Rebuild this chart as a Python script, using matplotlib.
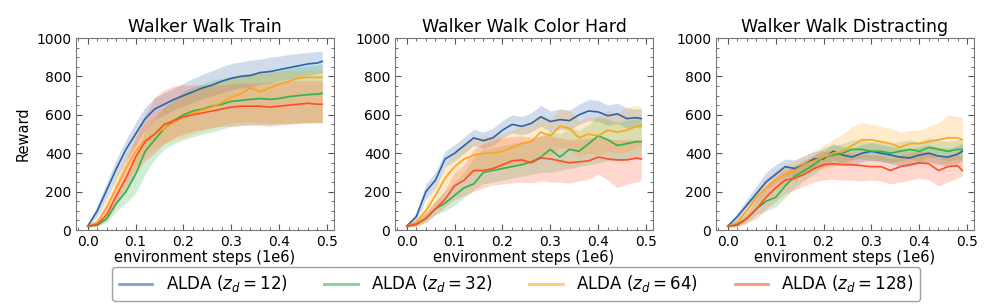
import matplotlib
matplotlib.use("Agg")
import matplotlib.pyplot as plt
from matplotlib.ticker import AutoMinorLocator
import numpy as np

steps = [0.00, 0.02, 0.04, 0.06, 0.08, 0.10, 0.12, 0.14, 0.16, 0.18, 0.20, 0.22, 0.24,
         0.26, 0.28, 0.30, 0.32, 0.34, 0.36, 0.38, 0.40, 0.42, 0.44, 0.46, 0.48, 0.49]

titles = ["Walker Walk Train", "Walker Walk Color Hard", "Walker Walk Distracting"]
labels = [r"ALDA ($z_d = 12$)", r"ALDA ($z_d = 32$)", r"ALDA ($z_d = 64$)", r"ALDA ($z_d = 128$)"]
colors = ["#2b64ab", "#2bb54a", "#ffa31a", "#ff4d26"]

# --- Walker Walk Train ---
train_12 = [20, 100, 210, 320, 420, 500, 580, 630, 655, 680, 700, 720, 740, 755, 775, 790, 800, 805, 820, 825, 835, 845, 855, 865, 870, 878]
train_12_lo = [15, 70, 170, 270, 360, 440, 520, 575, 600, 625, 645, 665, 685, 700, 715, 730, 740, 745, 760, 765, 775, 785, 795, 805, 815, 820]
train_12_hi = [25, 130, 250, 370, 470, 560, 640, 690, 715, 740, 765, 790, 810, 830, 850, 868, 875, 885, 890, 900, 905, 915, 920, 925, 930, 930]
train_32 = [20, 25, 60, 140, 200, 290, 410, 470, 530, 570, 600, 620, 630, 645, 655, 670, 675, 680, 685, 680, 685, 695, 700, 705, 708, 712]
train_32_lo = [15, 20, 40, 100, 140, 190, 290, 370, 420, 450, 470, 485, 500, 510, 525, 540, 545, 550, 550, 550, 555, 555, 560, 560, 560, 560]
train_32_hi = [25, 35, 90, 180, 270, 390, 520, 580, 640, 680, 720, 745, 760, 780, 790, 800, 810, 815, 820, 825, 830, 840, 850, 855, 860, 865]
train_64 = [20, 40, 120, 220, 320, 410, 470, 500, 530, 560, 590, 610, 625, 640, 665, 690, 710, 740, 720, 740, 760, 775, 790, 795, 795, 795]
train_64_lo = [15, 25, 80, 160, 250, 330, 390, 420, 450, 470, 480, 500, 515, 530, 545, 560, 560, 565, 560, 555, 555, 555, 555, 555, 555, 555]
train_64_hi = [25, 60, 170, 290, 400, 490, 560, 600, 640, 670, 700, 720, 740, 760, 780, 800, 810, 815, 815, 820, 825, 830, 830, 830, 830, 830]
train_128 = [20, 30, 80, 180, 270, 380, 460, 500, 550, 570, 590, 600, 610, 620, 630, 640, 645, 645, 645, 640, 645, 650, 655, 660, 655, 655]
train_128_lo = [15, 20, 50, 130, 200, 290, 360, 400, 450, 480, 500, 515, 525, 535, 540, 540, 545, 545, 545, 540, 545, 550, 555, 560, 560, 560]
train_128_hi = [25, 45, 130, 250, 360, 480, 600, 690, 730, 750, 755, 755, 755, 755, 755, 760, 765, 765, 765, 770, 770, 775, 780, 780, 780, 780]

# --- Walker Walk Color Hard ---
hard_12 = [20, 70, 200, 260, 370, 400, 440, 480, 465, 480, 520, 550, 540, 555, 590, 565, 575, 570, 600, 620, 615, 595, 605, 580, 585, 580]
hard_12_lo = [15, 50, 160, 220, 330, 360, 400, 440, 425, 440, 480, 505, 495, 510, 540, 515, 525, 520, 550, 570, 565, 545, 555, 530, 535, 530]
hard_12_hi = [25, 90, 240, 300, 410, 445, 485, 525, 510, 530, 570, 600, 590, 610, 650, 620, 630, 625, 655, 680, 675, 650, 660, 635, 630, 630]
hard_32 = [20, 30, 60, 110, 140, 180, 220, 240, 300, 310, 320, 330, 340, 355, 380, 420, 380, 420, 410, 450, 490, 470, 440, 450, 460, 460]
hard_32_lo = [15, 20, 40, 80, 100, 130, 170, 210, 240, 250, 260, 270, 280, 290, 300, 300, 310, 320, 330, 340, 350, 360, 360, 370, 370, 370]
hard_32_hi = [25, 45, 90, 150, 200, 250, 300, 380, 420, 430, 440, 450, 460, 470, 490, 520, 500, 530, 520, 550, 590, 580, 560, 570, 580, 580]
hard_64 = [20, 40, 100, 180, 270, 330, 370, 390, 400, 400, 410, 430, 450, 460, 510, 490, 540, 530, 480, 500, 490, 520, 510, 520, 540, 545]
hard_64_lo = [15, 25, 60, 120, 190, 240, 280, 300, 310, 310, 320, 330, 350, 360, 400, 390, 430, 420, 380, 400, 390, 410, 400, 410, 430, 440]
hard_64_hi = [25, 60, 140, 240, 340, 410, 450, 470, 490, 490, 500, 520, 540, 550, 600, 580, 630, 620, 570, 590, 590, 620, 610, 640, 650, 640]
hard_128 = [20, 30, 60, 110, 160, 230, 260, 310, 310, 320, 340, 360, 365, 350, 375, 370, 360, 350, 355, 360, 380, 370, 365, 365, 375, 370]
hard_128_lo = [15, 20, 40, 80, 120, 160, 180, 200, 220, 235, 240, 245, 250, 245, 255, 250, 250, 245, 255, 265, 290, 260, 220, 240, 250, 260]
hard_128_hi = [25, 45, 90, 150, 210, 300, 340, 420, 450, 470, 480, 485, 490, 480, 490, 490, 480, 470, 475, 480, 480, 475, 470, 470, 470, 470]

# --- Walker Walk Distracting ---
dist_12 = [20, 70, 130, 190, 250, 290, 330, 320, 340, 370, 370, 410, 390, 380, 400, 410, 400, 390, 380, 375, 390, 400, 385, 380, 395, 410]
dist_12_lo = [15, 50, 100, 150, 200, 240, 280, 280, 300, 330, 330, 365, 345, 335, 355, 365, 355, 345, 335, 330, 345, 355, 340, 335, 350, 360]
dist_12_hi = [25, 90, 160, 230, 300, 340, 370, 365, 385, 410, 415, 450, 435, 425, 445, 455, 445, 435, 425, 420, 435, 445, 430, 425, 440, 455]
dist_32 = [20, 30, 60, 110, 150, 170, 230, 280, 310, 340, 380, 390, 400, 420, 420, 410, 410, 400, 410, 420, 410, 430, 420, 410, 420, 420]
dist_32_lo = [15, 20, 40, 80, 100, 120, 170, 220, 260, 290, 330, 340, 350, 370, 370, 360, 360, 350, 360, 370, 360, 380, 370, 360, 370, 370]
dist_32_hi = [25, 45, 90, 150, 200, 230, 290, 340, 360, 390, 430, 440, 450, 470, 470, 460, 460, 450, 460, 470, 460, 480, 470, 460, 470, 470]
dist_64 = [20, 40, 100, 170, 220, 260, 290, 310, 340, 360, 380, 400, 410, 440, 470, 470, 460, 450, 430, 450, 450, 460, 470, 480, 480, 470]
dist_64_lo = [15, 25, 70, 130, 170, 210, 240, 260, 290, 310, 320, 330, 340, 360, 380, 380, 370, 360, 340, 350, 350, 350, 350, 340, 330, 330]
dist_64_hi = [25, 60, 130, 210, 270, 310, 340, 360, 390, 410, 440, 470, 500, 540, 560, 550, 540, 530, 510, 520, 520, 540, 560, 600, 590, 590]
dist_128 = [20, 25, 60, 110, 170, 220, 260, 270, 290, 320, 340, 345, 340, 340, 335, 330, 330, 310, 330, 340, 350, 345, 310, 330, 335, 310]
dist_128_lo = [15, 15, 35, 60, 110, 150, 190, 210, 230, 250, 260, 265, 260, 260, 255, 260, 255, 240, 250, 260, 270, 260, 230, 250, 270, 280]
dist_128_hi = [25, 40, 90, 160, 230, 280, 320, 330, 360, 390, 410, 410, 405, 400, 395, 390, 390, 370, 390, 400, 410, 405, 370, 390, 395, 370]

panels = [
    [(train_12, train_12_lo, train_12_hi), (train_32, train_32_lo, train_32_hi),
     (train_64, train_64_lo, train_64_hi), (train_128, train_128_lo, train_128_hi)],
    [(hard_12, hard_12_lo, hard_12_hi), (hard_32, hard_32_lo, hard_32_hi),
     (hard_64, hard_64_lo, hard_64_hi), (hard_128, hard_128_lo, hard_128_hi)],
    [(dist_12, dist_12_lo, dist_12_hi), (dist_32, dist_32_lo, dist_32_hi),
     (dist_64, dist_64_lo, dist_64_hi), (dist_128, dist_128_lo, dist_128_hi)],
]

fig = plt.figure(figsize=(9.97, 3.07), dpi=100)
lefts = [0.0762, 0.3962, 0.7182]

for i, (title, series) in enumerate(zip(titles, panels)):
    ax = fig.add_axes([lefts[i], 0.2508, 0.2588, 0.6254])
    for (mean, lo, hi), color, label in zip(series, colors, labels):
        ax.fill_between(steps, lo, hi, color=color, alpha=0.22, linewidth=0)
        ax.plot(steps, mean, color=color, linewidth=1.2, label=label)
    ax.set_ylim(0, 1000)
    ax.set_xticks([0.0, 0.1, 0.2, 0.3, 0.4, 0.5])
    ax.set_title(title, fontsize=12.5, pad=4)
    ax.set_xlabel("environment steps (1e6)", fontsize=10.5, labelpad=1)
    if i == 0:
        ax.set_ylabel("Reward", fontsize=10.5)
    ax.xaxis.set_minor_locator(AutoMinorLocator())
    ax.yaxis.set_minor_locator(AutoMinorLocator())
    ax.tick_params(which="both", direction="in", top=True, right=True, labelsize=10, colors="#555555", labelcolor="black")
    ax.tick_params(which="major", length=4)
    ax.tick_params(which="minor", length=2)
    for s in ax.spines.values():
        s.set_color("#777777")

handles = [plt.Line2D([], [], color=c, alpha=0.6, linewidth=2) for c in colors]
leg = fig.legend(handles, labels, loc="center", bbox_to_anchor=(0.518, 0.075), ncol=4,
                 fontsize=12, frameon=True, edgecolor="#888888", columnspacing=2.2,
                 handlelength=2.0, borderpad=0.4)

fig.savefig("out.png", dpi=100)
